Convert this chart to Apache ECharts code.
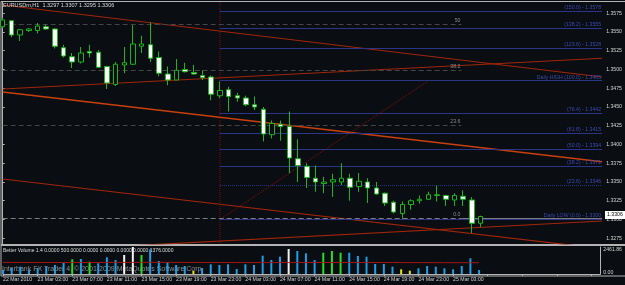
<!DOCTYPE html>
<html>
<head>
<meta charset="UTF-8">
<title>EURUSDm,H1</title>
<style>
  html, body { margin: 0; padding: 0; background: #0a0d11; }
  #chart { width: 625px; height: 285px; }
</style>
</head>
<body>
<div id="chart"></div>
<script src="https://cdn.jsdelivr.net/npm/echarts@6/dist/echarts.min.js"></script>
<script>
// H1 bars, 22 Mar 23:00 .. 25 Mar 06:00
var opens  = [1.3557,1.3565,1.3546,1.3552,1.3552,1.3557,1.3554,1.3529,1.3517,1.3510,
              1.3524,1.3523,1.3504,1.3480,1.3506,1.3507,1.3531,1.3533,1.3516,1.3494,
              1.3486,1.3500,1.3496,1.3492,1.3490,1.3465,1.3473,1.3465,1.3462,1.3453,
              1.3447,1.3413,1.3427,1.3424,1.3381,1.3371,1.3355,1.3348,1.3350,1.3350,
              1.3355,1.3344,1.3350,1.3342,1.3335,1.3323,1.3308,1.3320,1.3325,1.3327,
              1.3332,1.3332,1.3326,1.3331,1.3326,1.3295];
var closes = [1.3566,1.3546,1.3553,1.3554,1.3558,1.3554,1.3531,1.3518,1.3510,1.3522,
              1.3522,1.3503,1.3482,1.3507,1.3509,1.3534,1.3534,1.3515,1.3495,1.3486,
              1.3499,1.3497,1.3494,1.3489,1.3467,1.3472,1.3464,1.3462,1.3453,1.3450,
              1.3414,1.3428,1.3424,1.3382,1.3372,1.3356,1.3350,1.3350,1.3353,1.3355,
              1.3343,1.3351,1.3342,1.3334,1.3322,1.3310,1.3320,1.3325,1.3327,1.3333,
              1.3333,1.3327,1.3332,1.3327,1.3295,1.3304];
var lows   = [1.3555,1.3543,1.3538,1.3550,1.3548,1.3553,1.3528,1.3516,1.3502,1.3508,
              1.3516,1.3502,1.3474,1.3478,1.3495,1.3506,1.3522,1.3510,1.3491,1.3479,
              1.3486,1.3496,1.3493,1.3486,1.3459,1.3462,1.3444,1.3457,1.3451,1.3446,
              1.3404,1.3408,1.3405,1.3362,1.3350,1.3342,1.3337,1.3335,1.3330,1.3346,
              1.3325,1.3337,1.3322,1.3333,1.3318,1.3308,1.3301,1.3313,1.3321,1.3326,
              1.3324,1.3318,1.3318,1.3318,1.3282,1.3290];
var highs  = [1.3569,1.3566,1.3554,1.3555,1.3562,1.3560,1.3555,1.3533,1.3522,1.3530,
              1.3533,1.3526,1.3505,1.3510,1.3530,1.3559,1.3545,1.3563,1.3524,1.3504,
              1.3514,1.3509,1.3506,1.3499,1.3492,1.3484,1.3477,1.3469,1.3465,1.3464,
              1.3450,1.3432,1.3432,1.3444,1.3407,1.3375,1.3372,1.3357,1.3361,1.3375,
              1.3361,1.3362,1.3355,1.3350,1.3336,1.3325,1.3324,1.3327,1.3332,1.3337,
              1.3345,1.3333,1.3335,1.3339,1.3330,1.3305];

// Better Volume histogram, colour class per bar and its average line
var volumes = [364,547,666,365,547,666,820,1030,1340,1368,
               1121,976,1523,1277,1732,2461.86,1732,2252,1185,1067,
               820,730,274,547,884,820,884,456,884,820,
               1669,1277,1577,2280,2097,1887,1277,1942,2097,1942,
               1942,1641,1577,912,912,666,429,301,520,729,
               666,520,429,729,1432,365];
var volType = ['b','b','b','b','b','b','b','b','g','b',
               'g','b','b','b','w','w','g','b','b','b',
               'b','b','y','b','b','b','b','b','b','b',
               'b','b','b','w','b','b','b','g','g','g',
               'b','b','b','b','b','b','y','y','b','b',
               'b','b','b','b','b','b'];
var volAvg = [1060,1058,1055,1052,1050,1049,1047,1046,1045,1046,
              1048,1050,1052,1055,1057,1060,1062,1063,1064,1063,
              1061,1058,1055,1052,1050,1048,1046,1044,1042,1041,
              1040,1040,1041,1042,1044,1046,1048,1050,1051,1052,
              1052,1051,1050,1048,1046,1044,1042,1040,1038,1036,
              1035,1034,1033,1032,1032,1031];

var dateLabels = ['22 Mar 2010','23 Mar 03:00','23 Mar 07:00','23 Mar 11:00','23 Mar 15:00',
                  '23 Mar 19:00','23 Mar 23:00','24 Mar 03:00','24 Mar 07:00','24 Mar 11:00',
                  '24 Mar 15:00','24 Mar 19:00','24 Mar 23:00','25 Mar 03:00'];
var priceTicks = [1.3275,1.3300,1.3325,1.3350,1.3375,1.3400,1.3425,1.3450,
                  1.3475,1.3500,1.3525,1.3550,1.3575];
var volTicks = [0, 2461.86];

// fibo objects
var fibNames  = ['(150.0)','(138.2)','(123.6)','Daily HIGH (100.0)','(76.4)','(61.8)',
                 '(50.0)','(38.2)','(23.6)','Daily LOW (0.0)'];
var fibPrices = [1.3578,1.3555,1.3528,1.3485,1.3442,1.3415,1.3394,1.3371,1.3346,1.3300];
var grayNames  = ['50','38.2','23.6','0.0'];
var grayPrices = [1.3560,1.3499,1.3426,1.3302];
var fibDiag = [[25, 1.3300], [49, 1.3485]];
var daySep = 25;

// trend lines [bar, price]
var trendA = [[0, 1.3586], [69, 1.3490]];
var trendB = [[0, 1.3474], [69, 1.3515]];
var trendC = [[0, 1.3470], [69, 1.3377]];
var trendD = [[0, 1.3354], [69, 1.3261]];
var trendE = [[0, 1.3256], [69, 1.3298]];

var lastPrice = 1.3306;
var yMin = 1.326733, yMax = 1.3590;
var slots = 70;
var font = 'Liberation Sans';

var cats = [];
for (var i = 0; i < slots; i++) cats.push(String(i));
var candles = opens.map(function (o, i) { return [o, closes[i], lows[i], highs[i]]; });
var volColor = { b: '#1d9fe6', g: '#22e022', w: '#f2f2f2', y: '#e6e600' };
var volData = volumes.map(function (v, i) {
  return { value: v, itemStyle: { color: volColor[volType[i]] } };
});

var levelLines = [];
fibNames.forEach(function (n, i) {
  levelLines.push([
    { coord: [daySep, fibPrices[i]],
      lineStyle: { color: '#2a3588', width: 1, type: i === 8 ? 'dotted' : 'solid' },
      label: { formatter: n + ' - ' + fibPrices[i].toFixed(4), color: '#3a4ab4' } },
    { coord: [69, fibPrices[i]] }
  ]);
});
grayNames.forEach(function (n, i) {
  levelLines.push([
    { coord: [0, grayPrices[i]],
      lineStyle: { color: i === 3 ? '#7c7c7c' : '#454545', width: 1, type: [5, 3] },
      label: { formatter: n, color: '#8c8c8c' } },
    { coord: [52.8, grayPrices[i]] }
  ]);
});
// bid line carries on from the 0.0 level to the price scale
levelLines.push([
  { coord: [52.8, grayPrices[3]], lineStyle: { color: '#7c7c7c', width: 1, type: 'solid' },
    label: { show: false } },
  { coord: [69, grayPrices[3]] }
]);

function trend(d, color, w, type) {
  return {
    type: 'line', xAxisIndex: 1, yAxisIndex: 0, data: d, symbol: 'none',
    silent: true, z: 2, clip: true,
    lineStyle: { color: color, width: w, type: type || 'solid' }
  };
}

var chart = echarts.init(document.getElementById('chart'));
chart.setOption({
  backgroundColor: '#0a0d11',
  animation: false,
  textStyle: { fontFamily: font },
  title: [
    { text: 'EURUSDm,H1  1.3297 1.3307 1.3295 1.3306', left: 3, top: 2, padding: 0,
      textStyle: { color: '#dcdcdc', fontSize: 5.5, fontWeight: 'normal', fontFamily: font } },
    { text: 'Better Volume 1.4 0.0000 500.0000 0.0000 0.0000 0.0000 0.0000 1376.0000',
      left: 3, top: 248, padding: 0, z: 1,
      textStyle: { color: '#dcdcdc', fontSize: 5, fontWeight: 'normal', fontFamily: font } },
    { text: 'Interbank FX Trader 4, \u00a9 2001-2009 MetaQuotes Software Corp.',
      left: 2, top: 266, padding: 0, z: 0,
      textStyle: { color: '#8e8e8e', fontSize: 7, fontWeight: 'normal', fontFamily: font } }
  ],
  grid: [
    { left: 2.7, top: 2, width: 601.3, height: 242 },
    { left: 2.7, top: 247, width: 601.3, height: 27 }
  ],
  xAxis: [
    { type: 'category', gridIndex: 0, data: cats, boundaryGap: false, show: false },
    { type: 'value', gridIndex: 0, min: 0, max: 69, show: false },
    { type: 'category', gridIndex: 1, data: cats, boundaryGap: false,
      axisLine: { lineStyle: { color: '#b4b4b4' } },
      axisTick: { interval: 3, length: 2, lineStyle: { color: '#b4b4b4' } },
      axisLabel: { interval: 3, align: 'left', margin: 3.5, fontSize: 5.2, color: '#cfcfcf',
        formatter: function (v, idx) { return dateLabels[idx / 4] || ''; } },
      splitLine: { show: false } }
  ],
  yAxis: [
    { type: 'value', gridIndex: 0, position: 'right', min: yMin, max: yMax, scale: true,
      axisLine: { show: true, lineStyle: { color: '#b4b4b4' } },
      axisTick: { show: true, length: 2, customValues: priceTicks, lineStyle: { color: '#b4b4b4' } },
      axisLabel: { customValues: priceTicks, margin: 4, fontSize: 5.2, color: '#d4d4d4',
        formatter: function (v) { return v.toFixed(4); } },
      splitLine: { show: false } },
    { type: 'value', gridIndex: 1, position: 'right', min: 0, max: 2461.86,
      axisLine: { show: true, lineStyle: { color: '#b4b4b4' } },
      axisTick: { show: false },
      axisLabel: { customValues: volTicks, margin: 3, fontSize: 5.2, color: '#d4d4d4',
        formatter: function (v) {
          return v > 0 ? '{top|' + v.toFixed(2) + '}' : '{bot|' + v.toFixed(2) + '}';
        },
        rich: {
          top: { fontSize: 5.2, color: '#d4d4d4', padding: [5, 0, 0, 0] },
          bot: { fontSize: 5.2, color: '#d4d4d4', padding: [0, 0, 2, 0] }
        } },
      splitLine: { show: false } }
  ],
  series: [
    trend(trendA, '#a0260a', 1.2),
    trend(trendB, '#a0260a', 1.2),
    trend(trendC, '#c8400e', 1.5),
    trend(trendD, '#a0260a', 1.2),
    trend(trendE, '#a0260a', 1.2),
    trend(fibDiag, '#8a1010', 1, 'dotted'),
    {
      type: 'line', xAxisIndex: 1, yAxisIndex: 0, symbol: 'none', silent: true, z: 2,
      data: [[daySep, yMax], [daySep, yMin]],
      lineStyle: { color: '#7a0e0e', width: 1, type: 'dotted' },
      markLine: {
        silent: true, animation: false, symbol: ['none', 'none'],
        label: { show: true, position: 'insideEndTop', distance: [1, 1], fontSize: 5.2, fontFamily: font },
        data: levelLines
      }
    },
    {
      type: 'candlestick', xAxisIndex: 0, yAxisIndex: 0, data: candles, z: 5,
      barWidth: 5,
      itemStyle: { color: '#0a0d11', color0: '#ffffff', borderColor: '#1cb41c', borderColor0: '#1cb41c', borderWidth: 1 }
    },
    {
      type: 'bar', xAxisIndex: 2, yAxisIndex: 1, data: volData, barWidth: 2, z: 3
    },
    {
      type: 'line', xAxisIndex: 2, yAxisIndex: 1, data: volAvg, symbol: 'none', z: 4,
      lineStyle: { color: '#a51414', width: 1 }
    }
  ]
});

var yBox = chart.convertToPixel({ yAxisIndex: 0 }, lastPrice);
chart.setOption({
  graphic: [
    { type: 'line', silent: true, shape: { x1: 1, y1: 1.5, x2: 625, y2: 1.5 }, style: { stroke: '#b4b4b4', lineWidth: 1 } },
    { type: 'line', silent: true, shape: { x1: 1, y1: 1.5, x2: 1, y2: 276 }, style: { stroke: '#b4b4b4', lineWidth: 1 } },
    { type: 'line', silent: true, shape: { x1: 1, y1: 245, x2: 625, y2: 245 }, style: { stroke: '#b4b4b4', lineWidth: 2 } },
    { type: 'line', silent: true, shape: { x1: 1, y1: 276, x2: 625, y2: 276 }, style: { stroke: '#b4b4b4', lineWidth: 1 } },
    { type: 'rect', silent: true, z: 100, shape: { x: 605, y: yBox - 4, width: 20, height: 8 }, style: { fill: '#ffffff' } },
    { type: 'text', silent: true, z: 101, x: 607, y: yBox, style: { text: lastPrice.toFixed(4), fill: '#000000', fontSize: 5.2, fontFamily: font, verticalAlign: 'middle' } }
  ]
});
</script>
</body>
</html>
